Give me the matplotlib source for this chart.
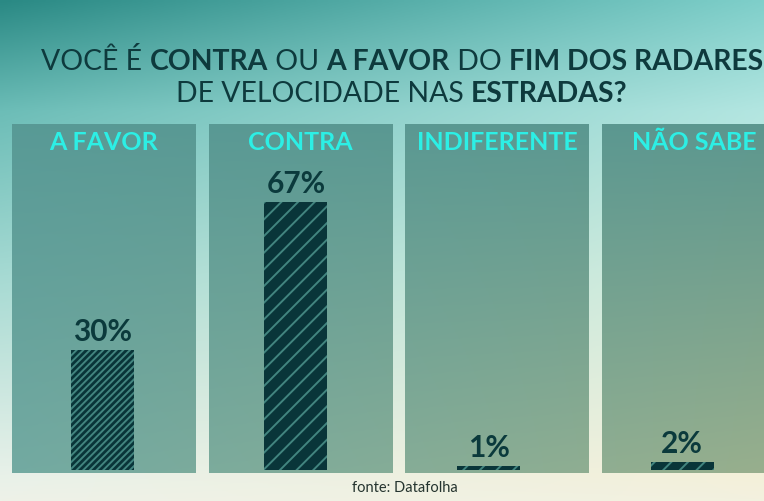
import numpy as np
import matplotlib
matplotlib.use("Agg")
import matplotlib.pyplot as plt
from matplotlib.colors import to_rgb
from matplotlib.patches import Rectangle

# ---- data ----
categories = ["A FAVOR", "CONTRA", "INDIFERENTE", "NÃO SABE"]
values = [30, 67, 1, 2]
title_line1 = [("VOCÊ É ", "normal"), ("CONTRA", "bold"), (" OU ", "normal"),
               ("A FAVOR", "bold"), (" DO ", "normal"), ("FIM DOS RADARES", "bold")]
title_line2 = [("DE VELOCIDADE NAS ", "normal"), ("ESTRADAS?", "bold")]
source = "fonte: Datafolha"

W, H = 764, 501
fig = plt.figure(figsize=(W / 100, H / 100), dpi=100)
plt.rcParams['font.family'] = ['Lato', 'DejaVu Sans']

# ---- background gradient ----
def grad_img(rows, w, h):
    ys = np.array([r[0] for r in rows])
    L = np.array([to_rgb(r[1]) for r in rows])
    R = np.array([to_rgb(r[2]) for r in rows])
    yy = np.linspace(0, 1, h)
    left = np.stack([np.interp(yy, ys, L[:, c]) for c in range(3)], axis=1)
    right = np.stack([np.interp(yy, ys, R[:, c]) for c in range(3)], axis=1)
    xx = np.linspace(0, 1, w)[None, :, None]
    return left[:, None, :] * (1 - xx) + right[:, None, :] * xx

bg_ax = fig.add_axes([0, 0, 1, 1])
bg_ax.set_axis_off()
bg = grad_img([(0.0, "#2a8984", "#7fcfca"),
               (0.22, "#6cbdb7", "#b3e6e1"),
               (0.55, "#a6dad3", "#d6eedf"),
               (0.95, "#e8f1e9", "#f4f0d9"),
               (1.0, "#eef2e8", "#f3f1df")], 200, 200)
bg_ax.imshow(bg, extent=[0, 1, 0, 1], aspect='auto', zorder=0)
bg_ax.set_xlim(0, 1)
bg_ax.set_ylim(0, 1)

# ---- chart axes: 4 px per percentage point ----
px_per_unit = 4.0
spacing_px = 193.0
first_center_px = 103.0
ax_bottom_px, ax_top_px = 473, 124
ax = fig.add_axes([0, 1 - ax_bottom_px / H, 1, (ax_bottom_px - ax_top_px) / H])
ax.set_axis_off()
ax.patch.set_alpha(0)
ax.set_xlim(-first_center_px / spacing_px, (W - first_center_px) / spacing_px)
y0 = -3 / px_per_unit
ax.set_ylim(y0, y0 + (ax_bottom_px - ax_top_px) / px_per_unit)
ymax = ax.get_ylim()[1]

x = np.arange(len(categories))
# panel (card) centres in pixels -> data units
panel_centers = (np.array([104, 300.5, 497, 694]) - first_center_px) / spacing_px
panel_w = 184 / spacing_px
panel_img = grad_img([(0.0, "#589a96", "#5c978f"),
                      (1.0, "#72aaa2", "#98af8d")], 200, 200)
xl = ax.get_xlim()
for pc in panel_centers:
    rect = Rectangle((pc - panel_w / 2, y0), panel_w, ymax - y0,
                     facecolor='none', edgecolor='none')
    ax.add_patch(rect)
    im = ax.imshow(panel_img, extent=[xl[0], xl[1], y0, ymax],
                   aspect='auto', zorder=1)
    im.set_clip_path(rect)
ax.set_xlim(xl)
ax.set_ylim(y0, ymax)

plt.rcParams['hatch.linewidth'] = 1.4
bar_w = 63 / spacing_px
hatches = ['/////', '//', '//', '//']
for xi, v, h in zip(x, values, hatches):
    ax.bar(xi, v, width=bar_w, color='#093539', edgecolor='#42857f',
           linewidth=0, hatch=h, zorder=3)
    ax.text(xi, v + 1, f"{v}%", ha='center', va='bottom', fontsize=21.5,
            fontweight='bold', color='#0b3a3c', zorder=4)

for pc, c in zip(panel_centers, categories):
    ax.text(pc, (473 - 3 - 143) / px_per_unit, c, ha='center', va='center',
            fontsize=18, fontweight='bold', color='#2cefe5', zorder=4)

# ---- title with mixed weights ----
renderer = fig.canvas.get_renderer()

def draw_line(pieces, y_px, size, measure_only=False, center_px=402):
    texts = []
    for s, wgt in pieces:
        t = fig.text(0, 1 - y_px / H, s, fontsize=size, fontweight=wgt,
                     color='#0e3a3d', va='center', ha='left')
        texts.append(t)
    widths = [t.get_window_extent(renderer).width for t in texts]
    total = sum(widths)
    if measure_only:
        for t in texts:
            t.remove()
        return total
    xpos = center_px - total / 2
    for t, wdt in zip(texts, widths):
        t.set_x(xpos / W)
        xpos += wdt
    return total

base = 22
w1 = draw_line(title_line1, 62, base, measure_only=True)
size = base * 720 / w1
draw_line(title_line1, 62, size)
draw_line(title_line2, 94, size)

fig.text(405 / W, 1 - 488 / H, source, ha='center', va='center',
         fontsize=10.5, color='#25342f')

fig.savefig("out.png", dpi=100)
